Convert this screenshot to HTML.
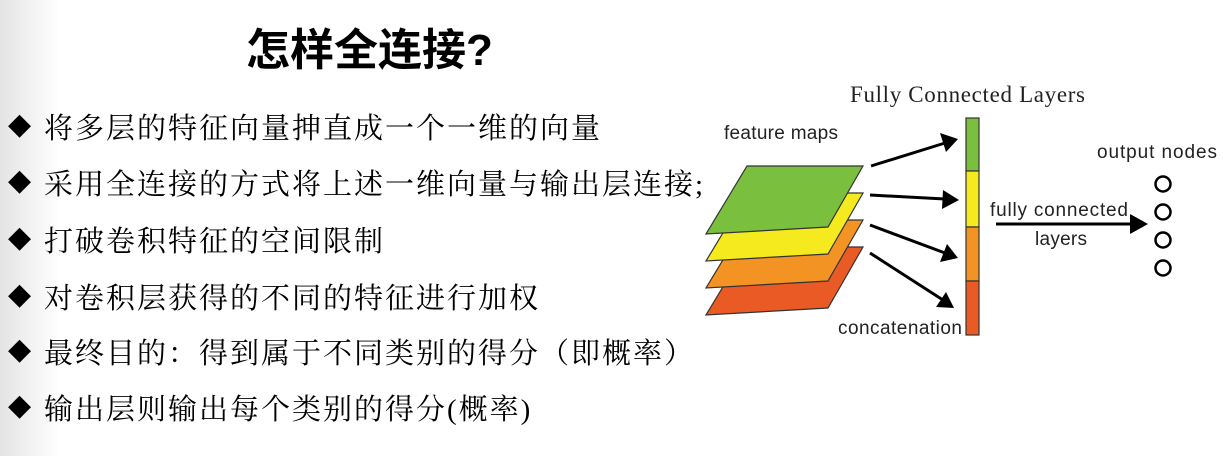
<!DOCTYPE html>
<html><head><meta charset="utf-8"><style>
body{margin:0;width:1223px;height:456px;overflow:hidden;background:#fff;position:relative;}
.bg{position:absolute;left:0;top:0;width:60px;height:456px;background:linear-gradient(to right,#e4e4e4,#fff);}
.t{position:absolute;left:246px;top:14px;font:bold 44px "Liberation Sans","Noto Sans CJK SC",sans-serif;color:#000;}
.b{position:absolute;left:44px;font:29px "Liberation Serif","Noto Serif CJK SC",serif;color:#000;white-space:nowrap;letter-spacing:2px;}
.d{position:absolute;left:8px;font:30px "DejaVu Sans",sans-serif;color:#000;}
svg{position:absolute;left:0;top:0;}
</style></head><body>
<div class="bg"></div>
<div class="t">怎样全连接?</div>
<div class="d" style="top:107px">◆</div><div class="b" style="top:106px">将多层的特征向量抻直成一个一维的向量</div>
<div class="d" style="top:163px">◆</div><div class="b" style="top:162px">采用全连接的方式将上述一维向量与输出层连接;</div>
<div class="d" style="top:220px">◆</div><div class="b" style="top:219px">打破卷积特征的空间限制</div>
<div class="d" style="top:277px">◆</div><div class="b" style="top:276px">对卷积层获得的不同的特征进行加权</div>
<div class="d" style="top:332px">◆</div><div class="b" style="top:331px">最终目的：得到属于不同类别的得分（即概率）</div>
<div class="d" style="top:388px">◆</div><div class="b" style="top:387px">输出层则输出每个类别的得分(概率)</div>
<svg width="1223" height="456" font-family="Liberation Sans, sans-serif">
<text x="850" y="102" font-family="Liberation Serif, serif" font-size="23" fill="#222" textLength="235">Fully Connected Layers</text>
<text x="724" y="139" font-size="19" fill="#222" textLength="114">feature maps</text>
<text x="838" y="334" font-size="19" fill="#222" textLength="124">concatenation</text>
<text x="1097" y="158" font-size="19" fill="#222" textLength="120">output nodes</text>
<text x="990" y="216" font-size="19" fill="#222" textLength="138">fully connected</text>
<text x="1035" y="245" font-size="19" fill="#222" textLength="52">layers</text>
<g stroke="#333" stroke-width="1.2">
<polygon points="747,247 863,247 828,308 706,315" fill="#ea5a24"/>
<polygon points="747,220 863,220 828,281 706,288" fill="#f39323"/>
<polygon points="747,193 863,193 828,254 706,261" fill="#f5ea1e"/>
<polygon points="747,166 863,166 828,227 706,234" fill="#7bbf3f"/>
<rect x="966" y="118" width="13" height="53" fill="#7bbf3f"/>
<rect x="966" y="171" width="13" height="56" fill="#f5ea1e"/>
<rect x="966" y="227" width="13" height="54" fill="#f39323"/>
<rect x="966" y="281" width="13" height="54" fill="#ea5a24"/>
</g>
<g stroke="#000" stroke-width="3" fill="none">
<line x1="871" y1="166" x2="945" y2="143"/>
<line x1="870" y1="195" x2="945" y2="199"/>
<line x1="870" y1="225" x2="945" y2="253"/>
<line x1="870" y1="253" x2="943" y2="300"/>
<line x1="996" y1="224" x2="1132" y2="224"/>
</g>
<g fill="#000">
<polygon points="958,139 940,133 946,152"/>
<polygon points="959,200 943,190 942,209"/>
<polygon points="958,258 947,244 940,262"/>
<polygon points="954,308 946,292 936,307"/>
<polygon points="1148,224 1130,214 1130,234"/>
</g>
<g stroke="#000" stroke-width="2.5" fill="none">
<circle cx="1163" cy="184" r="7.5"/><circle cx="1163" cy="212" r="7.5"/>
<circle cx="1163" cy="240" r="7.5"/><circle cx="1163" cy="268" r="7.5"/>
</g>
</svg>
</body></html>
